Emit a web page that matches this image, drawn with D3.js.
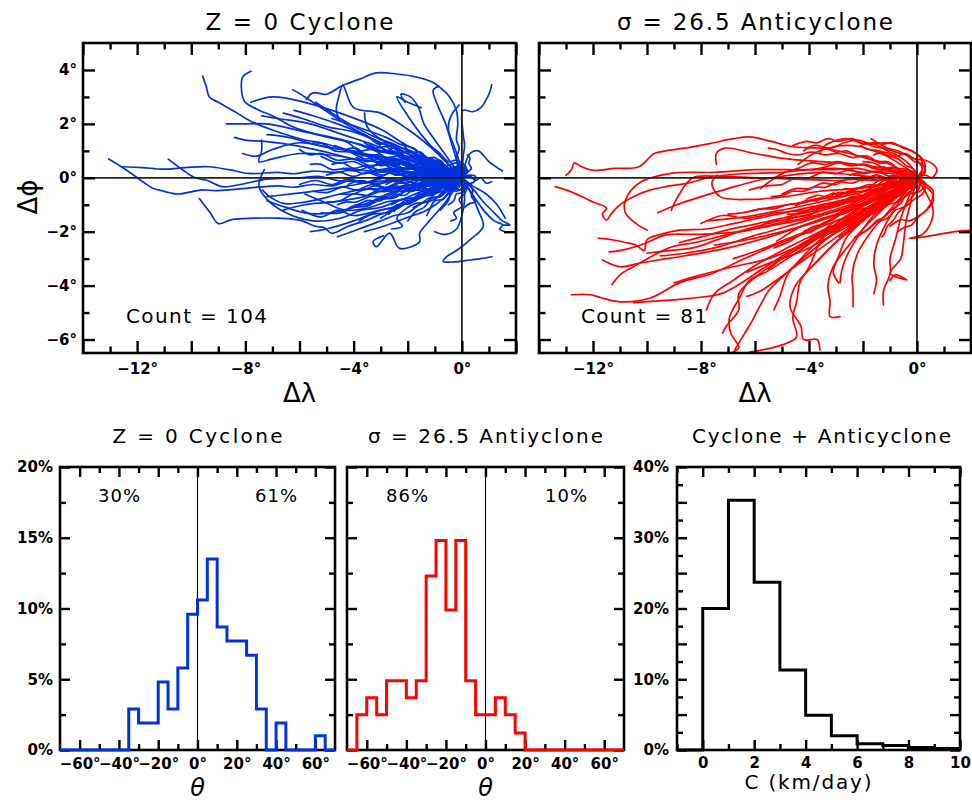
<!DOCTYPE html>
<html>
<head>
<meta charset="utf-8">
<script src="https://cdn.jsdelivr.net/npm/d3@7"></script>
<style>
  body { margin: 0; background: #fff; }
  svg { display: block; }
</style>
</head>
<body>
<svg id="chart" width="972" height="804"></svg>
<script>
// ---------- Eddy track data (Δλ, Δφ in degrees, relative to the genesis point) ----------
// Every track begins at the origin; each string lists the following positions "lon,lat".
const cycloneTracks = [
  "-0.5,0.15 -1,-0.05 -1.6,0.1 -2.2,-0.1 -2.8,0 -3.5,-0.15 -4.1,-0.1 -4.8,-0.3 -5.5,-0.25 -6.2,-0.35 -6.8,-0.3 -7.3,-0.33 -8.3,-0.42 -9.1,-0.48 -9.6,-0.45 -10,-0.52 -10.4,-0.6 -10.7,-0.58 -11.2,-0.45 -11.4,-0.4 -11.7,-0.21 -12.2,0.15 -12.6,0.42 -13.05,0.7",
  "-0.6,0.1 -1.3,0.2 -2,0.15 -2.6,0.35 -3.3,0.25 -4,0.3 -4.7,0.2 -5.5,0.25 -6.2,0.15 -6.8,0.2 -7.9,0.16 -8.6,0.3 -9.35,0.41 -10.2,0.38 -11.07,0.32 -11.8,0.38 -12.55,0.41",
  "-0.7,0.05 -1.5,-0.1 -2.2,-0.05 -3,-0.2 -3.8,-0.15 -4.6,-0.1 -5.3,0.05 -6,0 -7.2,-0.05 -8.2,-0.25 -8.85,-0.33 -9.4,-0.1 -9.85,0 -10.3,0.28 -10.85,0.69",
  "-0.6,-0.2 -1.2,-0.6 -1.8,-0.8 -2.5,-1.2 -3,-1.35 -3.5,-1.57 -4.2,-1.8 -4.8,-2.06 -5.1,-1.85 -5.4,-1.8 -6,-1.57 -6.8,-1.5 -7.7,-1.5 -8.5,-1.55 -9,-1.7 -9.3,-1.3 -9.7,-0.77",
  "-0.8,0.1 -1.5,0.4 -2.2,0.5 -3,0.8 -3.8,0.9 -4.5,1.1 -5.2,1.3 -5.8,1.4 -7,1.77 -7.8,2.1 -8.47,2.5 -9,2.8 -9.33,3 -9.45,3.4 -9.58,3.77",
  "-0.8,0.35 -1.6,0.5 -2.4,0.85 -3.2,1 -4,1.3 -4.8,1.5 -5.5,1.65 -6.25,1.89 -7,2.3 -7.48,2.5 -8,2.8 -8.1,3 -8.15,3.4 -8.1,3.74 -7.79,3.95",
  "-0.2,0.7 -0.1,1.1 -0.2,1.4 -0.15,2 -0.2,2.5 -0.45,3 -0.69,3.25 -1.1,3.55 -1.68,3.74 -2.4,3.85 -3.16,3.89 -3.8,3.65 -4.4,3.43 -5,3.1 -5.5,3.15 -5.75,2.9",
  "0.05,0.8 0.1,1.2 0.05,1.6 0.04,2.5 0.4,2.45 0.7,2.6 0.9,2.9 1.04,3.2 1.1,3.45",
  "0.3,-0.5 0.6,-1.2 0.79,-1.81 0.3,-2.3 -0.2,-2.7 -0.57,-2.93 -0.69,-3.1 -0.3,-3.12 0.3,-3.05 0.7,-3 1.11,-2.93",
  "0.3,0.9 0.6,1 1,0.6 1.5,0.25",
  "0.4,-0.4 0.8,-0.9 1.2,-1.3 1.5,-1.6 1.78,-1.75 1.5,-1.75",
  "-0.6,-0.9 -1.2,-1.6 -1.56,-2.06 -1.56,-2.37 -2.3,-2.62 -2.67,-2.05 -3.16,-2.56 -3.28,-2.37 -2.9,-2.15",
  "-0.5,-0.3 -1,-0.8 -1.5,-0.95 -2,-1.3 -2.5,-1.4 -3,-1.6 -3.8,-1.9 -4.6,-2.19",
  "-0.7,-0.3 -1.5,-0.7 -2.2,-0.8 -3,-1.1 -3.7,-1.2 -4.5,-1.5 -5.5,-1.6 -6.5,-1.3 -7.2,-0.8 -7.5,-0.3 -7.3,0.3",
  "-0.7,0.3 -1.5,0.5 -2.2,0.8 -3,1 -3.8,1.25 -4.5,1.4 -6,1.75 -7.2,2 -8,2 -8.7,2",
  "-0.7,0.4 -1.5,0.6 -2.2,1 -3,1.3 -4.3,2 -5.2,2.6 -5.8,3 -6.25,3.27",
  "-0.8,0.8 -1.5,1.6 -2,2.3 -2.4,3 -2,2.8 -1.5,2.6",
  "-0.3,1 -0.6,2 -0.9,2.7 -1.06,3.25 -0.85,3.4",
  "0.4,-0.3 0.9,-0.6 1.3,-1 1.6,-1.5",
  "-0.7,-0.4 -1.5,-0.6 -2.2,-1 -3,-1.2 -4,-1.6 -5,-1.9 -5.6,-2",
  "-0.8,0.1 -1.6,0.3 -2.4,0.4 -3.2,0.6 -4,0.7 -4.8,0.9 -6.2,1.2 -7.3,1.35 -8,1.4 -8.4,1.5",
  "-0.8,0.3 -1.6,0.4 -2.4,0.7 -3.2,0.8 -4,1 -4.8,1.1 -6,1.3 -7,1.05 -7.6,0.8 -8.1,0.9",
  "-0.8,0.4 -1.5,0.9 -2.2,1.3 -3,1.8 -4.5,2.4 -5.8,2.8 -7,3 -7.8,2.8",
  "-1,1 -2,1.8 -3,2.4 -4,2.6 -4.4,3.43 -4.55,3 -4.64,2.5 -4.5,2.1",
  "-0.7,0.2 -1.5,0.3 -2.2,0.5 -3,0.6 -3.8,0.65 -4.5,0.8 -6,0.9 -7,0.7 -7.5,0.6 -7.4,1 -7.4,1.4",
  "-0.7,-0.15 -1.5,-0.2 -2.2,-0.35 -3,-0.4 -3.8,-0.45 -4.5,-0.6 -5.8,-0.9 -6.6,-0.95 -7.1,-0.7 -7.37,-0.46",
  "-0.6,-0.1 -1.2,-0.3 -1.9,-0.4 -2.5,-0.7 -3.1,-0.8 -3.7,-1 -4.8,-1.3 -5.7,-1.32 -6.5,-1.1 -7.2,-0.85",
  "-0.5,-0.3 -1,-0.5 -1.5,-0.75 -2,-0.9 -2.5,-1.1 -3,-1.2 -4,-1.4 -4.6,-1.2 -5.2,-1.45 -5.9,-1.2",
  "-0.6,0.3 -1.2,0.6 -1.8,0.8 -2.4,1.1 -3,1.3 -3.6,1.6 -4.6,2 -5.5,2.3 -6.2,2.5",
  "-0.5,0.2 -1,0.4 -1.5,0.7 -2,0.9 -2.5,1.1 -3,1.3 -4,1.7 -5,1.9 -5.9,2.2 -6.6,2.4",
  "-0.6,0.4 -1.3,0.7 -1.9,1 -2.5,1.2 -3.6,1.7 -4.5,2.2 -5.1,2.6 -5.4,2.8",
  "-0.8,0.4 -1.6,0.8 -2.4,1.2 -3.1,1.5 -3.5,1.9 -3.6,2.4",
  "-0.5,0.7 -1,1.4 -1.4,2 -1.6,2.6 -1.9,3 -2.25,3.1 -2.1,2.8",
  "-0.1,0.6 -0.3,1.2 -0.5,1.8 -0.4,2.3 -0.1,2.7",
  "0.8,-1.2 1.2,-1.6 1.5,-1.75 1.4,-1.9 1.6,-2",
  "-0.5,0.15 -1,0.4 -1.5,0.55 -2,0.8 -2.6,0.95 -3.2,1.2 -4.4,1.6 -5.6,2 -6.8,2.2 -7.4,2.3",
  "-0.6,-0.05 -1.2,-0.2 -1.8,-0.25 -2.4,-0.4 -3,-0.5 -3.6,-0.7 -4.8,-0.9 -5.8,-1 -6.6,-1.2",
  "-0.5,0.1 -1,0.2 -1.5,0.4 -2,0.5 -2.5,0.65 -3,0.7 -4.2,1 -5.3,1.2 -6.4,1.5 -7.2,1.6",
  "-0.5,-0.15 -1.1,-0.4 -1.6,-0.55 -2.2,-0.8 -2.8,-0.9 -3.4,-1.1 -4.3,-1.2 -5.1,-0.9 -5.8,-0.6",
  "-0.5,0.35 -0.9,0.6 -1.4,0.8 -1.8,1.1 -2.3,1.25 -2.8,1.5 -3.9,1.9 -4.8,2.2",
  "-0.6,0.05 -1.3,0 -2,-0.05 -2.6,-0.1 -3.3,-0.15 -3.9,-0.25 -5.1,-0.45 -6.3,-0.6 -7.2,-0.7",
  "-0.6,-0.7 -1.3,-1.2 -2.1,-1.5 -2.9,-1.8 -3.6,-2",
  "0.1,-0.8 0,-1.4 -0.2,-1.9 -0.6,-2.1 -1,-2",
  "-0.4,0.2 -0.8,0.05 -1.2,0.35 -1.7,0.3 -2.1,0.6 -2.6,0.5 -3,0.85 -3.5,0.8 -3.9,1.1 -4.3,1.05",
  "0.2,0.3 -0.3,0.4 -0.7,0.2 -1.2,0.45 -1.6,0.3 -2.1,0.55 -2.6,0.45 -3,0.7 -3.5,0.6 -3.9,0.75",
  "-0.3,0.3 -0.6,0.15 -1,0.5 -1.3,0.4 -1.7,0.8 -2.1,0.75 -2.5,1.1 -2.8,1 -3.2,1.4",
  "-0.5,-0.1 -0.9,0.2 -1.4,0.1 -1.9,0.35 -2.4,0.25 -2.9,0.5 -3.5,0.4 -4,0.6 -4.6,0.55 -5.2,0.8",
  "0.2,0.2 -0.1,0.45 -0.5,0.3 -0.9,0.55 -1.3,0.5 -1.7,0.8 -2.1,0.7 -2.5,1",
  "-0.4,0.3 -0.8,0.2 -1.3,0.55 -1.8,0.5 -2.3,0.8 -2.8,0.75 -3.3,1.05 -3.8,1 -4.2,1.3 -4.6,1.45",
  "-0.4,-0.15 -0.9,0.1 -1.3,-0.05 -1.8,0.2 -2.3,0.1 -2.7,0.3 -3.1,0.2 -3.5,0.4",
  "-0.3,0.25 -0.7,0.1 -1.1,0.35 -1.5,0.25 -2,0.6",
  "-0.5,0.1 -1,0.35 -1.5,0.25 -2,0.55 -2.6,0.5 -3.1,0.75 -3.6,0.7 -4.1,0.95 -4.7,1 -5.1,1.25 -5.5,1.3",
  "0.1,0.35 -0.3,0.25 -0.7,0.5 -1.1,0.4 -1.5,0.7 -1.9,0.65 -2.4,0.95 -2.7,0.9 -3,1.15",
  "-0.4,0.05 -0.8,0.3 -1.3,0.2 -1.7,0.45 -2.2,0.35 -2.6,0.6 -3.1,0.55 -3.5,0.8 -4,0.9",
  "-0.2,0.35 -0.5,0.25 -0.9,0.55 -1.2,0.5 -1.5,0.8",
  "-0.4,0.15 -0.8,-0.05 -1.2,0.2 -1.6,0.1 -2,0.25 -2.4,0.1 -2.8,0.3",
  "-0.5,0.2 -1,0 -1.5,0.25 -2,0.15 -2.5,0.35 -3,0.25 -3.5,0.45 -4,0.35 -4.4,0.55 -4.8,0.5",
  "-0.5,0.25 -1.1,0.1 -1.6,0.4 -2.2,0.3 -2.8,0.55 -3.4,0.45 -4,0.7 -4.6,0.65 -5.2,0.9 -5.6,0.85 -6,1.05",
  "0.15,0.4 -0.2,0.55 -0.6,0.45 -1,0.75 -1.5,0.7 -1.9,0.95 -2.4,0.9 -2.8,1.15 -3.2,1.1 -3.6,1.3",
  "-0.2,0.4 -0.5,0.3 -0.8,0.65 -1.2,0.6 -1.5,0.95 -1.9,0.95 -2.2,1.3",
  "0.1,0.45 -0.2,0.65 -0.5,0.6 -0.8,0.9 -1.2,1.2",
  "-0.4,-0.1 -0.8,0.15 -1.2,0 -1.7,0.2 -2.1,0.05 -2.5,0.25 -2.9,0.1 -3.3,0.2",
  "-0.5,0.15 -1,-0.05 -1.5,0.2 -2,0.05 -2.5,0.25 -3,0.05 -3.5,0.2 -4,0.05 -4.5,0.2 -5,0.1",
  "-0.3,0.1 -0.6,0.3 -1,0.2 -1.4,0.45 -1.8,0.35 -2.2,0.6 -2.6,0.7",
  "-0.4,0.25 -0.9,0.05 -1.4,0.3 -1.9,0.15 -2.4,0.35 -2.9,0.2 -3.4,0.4 -3.9,0.25 -4.4,0.35",
  "-0.3,0.35 -0.7,0.3 -1.1,0.7 -1.5,0.65 -1.9,1 -2.3,0.95 -2.7,1.3 -3.1,1.25 -3.5,1.55 -3.9,1.7",
  "-0.3,-0.1 -0.6,0.15 -1,0.05 -1.4,0.25 -1.8,0.2",
  "-0.5,0.2 -0.9,0.1 -1.4,0.4 -1.9,0.35 -2.4,0.65 -2.9,0.6 -3.4,0.85 -3.8,0.8 -4.3,1.05 -4.7,1.2",
  "-0.4,0 -0.8,0.25 -1.2,0.15 -1.6,0.4 -2.1,0.3 -2.5,0.55 -3,0.45 -3.3,0.65 -3.6,0.6",
  "-0.2,0.15 -0.5,0.05 -0.9,0.3 -1.3,0.35",
  "-0.3,0.25 -0.7,0.15 -1,0.45 -1.4,0.45 -1.8,0.75 -2.2,0.7 -2.6,1 -3,1 -3.4,1.25",
  "-0.4,-0.2 -0.8,-0.1 -1.2,-0.4 -1.7,-0.35 -2.1,-0.65 -2.6,-0.6 -3,-0.85 -3.5,-0.85 -4,-1.1",
  "-0.4,-0.05 -0.8,-0.3 -1.2,-0.2 -1.7,-0.45 -2.2,-0.4 -2.7,-0.65 -3.2,-0.8",
  "-0.3,-0.3 -0.6,-0.2 -0.9,-0.55 -1.3,-0.5 -1.7,-0.85 -2.1,-0.85 -2.5,-1.25",
  "-0.5,-0.2 -1,-0.05 -1.5,-0.35 -2,-0.25 -2.5,-0.5 -3,-0.4 -3.5,-0.65 -4,-0.6 -4.5,-0.85 -5,-0.9",
  "0.2,-0.3 -0.1,-0.45 -0.4,-0.4 -0.8,-0.7 -1.2,-0.75 -1.5,-0.95 -1.8,-1.1",
  "-0.4,0.05 -0.8,-0.2 -1.3,-0.1 -1.8,-0.3 -2.3,-0.2 -2.8,-0.4 -3.2,-0.3 -3.6,-0.45",
  "-0.4,-0.2 -0.8,-0.05 -1.2,-0.3 -1.7,-0.3 -2.2,-0.5",
  "-0.5,-0.05 -1,-0.3 -1.5,-0.2 -2,-0.4 -2.5,-0.3 -3,-0.5 -3.5,-0.4 -4,-0.6 -4.5,-0.6",
  "0.1,-0.3 -0.2,-0.5 -0.4,-0.45 -0.7,-0.8 -1,-0.85 -1.2,-1.2 -1.3,-1.4",
  "-0.3,-0.35 -0.7,-0.3 -1.1,-0.65 -1.5,-0.65 -1.9,-0.95 -2.3,-1 -2.7,-1.3 -3,-1.5",
  "-0.1,-0.35 -0.4,-0.5 -0.5,-0.85 -0.8,-1.2",
  "-0.3,-0.15 -0.7,0 -1.1,-0.2 -1.5,-0.05 -1.9,-0.25 -2.4,-0.1 -2.8,-0.25",
  "-0.5,-0.1 -1.1,0.05 -1.6,-0.2 -2.2,-0.1 -2.8,-0.35 -3.3,-0.25 -3.9,-0.45 -4.4,-0.35 -5,-0.55 -5.5,-0.5",
  "-0.6,0.1 -1.2,-0.1 -1.8,0.05 -2.4,-0.15 -3,0 -3.6,-0.2 -4.2,-0.05 -4.8,-0.25 -5.4,-0.1 -6,-0.25",
  "-0.3,-0.05 -0.6,-0.3 -1,-0.3 -1.3,-0.55 -1.5,-0.6",
  "-0.3,-0.3 -0.7,-0.25 -1.1,-0.6 -1.5,-0.65 -1.9,-0.95 -2.4,-1 -2.8,-1.3 -3.3,-1.35 -3.8,-1.6",
  "-0.2,-0.35 -0.5,-0.35 -0.8,-0.7 -1.1,-0.75 -1.4,-1.1 -1.7,-1.25 -2,-1.6",
  "-0.5,0.05 -1,-0.15 -1.5,0 -2.1,-0.2 -2.6,-0.05 -3.1,-0.25 -3.7,-0.1 -4.2,-0.25",
  "0.15,-0.3 0,-0.55 -0.2,-0.6 -0.3,-0.85 -0.5,-1",
  "0.2,-0.25 0.1,-0.6 -0.1,-0.8 0,-1.05 -0.3,-1.3 -0.2,-1.5 -0.4,-1.6",
  "0.2,-0.2 0.4,-0.45 0.35,-0.7 0.5,-0.9 0.3,-0.95 0.1,-1.1",
  "-0.4,-0.1 -0.9,-0.3 -1.3,-0.25 -1.8,-0.5 -2.3,-0.5 -2.7,-0.75 -3.1,-0.8 -3.5,-1 -3.9,-1 -4.3,-1.2",
  "-0.3,-0.25 -0.6,-0.15 -1,-0.45 -1.4,-0.45 -1.8,-0.75 -2.2,-0.8 -2.6,-1",
  "-0.4,0 -0.9,-0.25 -1.3,-0.15 -1.8,-0.4 -2.2,-0.3 -2.7,-0.5 -3.2,-0.5",
  "-0.2,-0.2 -0.5,-0.1 -0.9,-0.35 -1.3,-0.45",
  "-0.3,-0.3 -0.7,-0.25 -1,-0.55 -1.4,-0.6 -1.8,-0.9 -2.2,-0.95 -2.7,-1.35",
  "0.3,0.1 0.5,0.05 0.45,-0.15 0.2,-0.25 0.1,-0.4",
  "0.2,0.2 0.35,0.35 0.25,0.55 0.3,0.7 0.2,0.85",
  "0.3,0.05 0.5,-0.1 0.7,0 0.9,-0.2 1.1,-0.15",
  "-0.4,-0.15 -0.8,0 -1.2,-0.3 -1.6,-0.25 -2,-0.5 -2.5,-0.5 -3,-0.7 -3.4,-0.7 -3.9,-0.9 -4.3,-0.9 -4.6,-1",
  "-0.3,-0.3 -0.6,-0.45 -1,-0.6 -1.3,-0.9 -1.7,-0.95 -2,-1.1 -2.4,-1.5 -2.2,-1.8 -2.6,-1.9",
  "-0.5,-0.15 -1,-0.1 -1.5,-0.45 -2,-0.45 -2.5,-0.75 -3,-0.8 -3.5,-1.05 -4,-1.1 -4.5,-1.3 -5.2,-1.3",
  "-0.3,0.15 -0.6,0 -1,0.15 -1.3,-0.05 -1.7,0.05 -2.2,0",
  "-0.6,0.15 -1.2,-0.05 -1.8,0.2 -2.4,0.1 -3,0.3 -3.6,0.15 -4.2,0.35 -4.8,0.3 -5.2,0.5 -5.6,0.5"
];

const anticycloneTracks = [
  "-0.5,0.2 -1,0.5 -1.8,0.7 -2.5,0.9 -3.6,1.1 -4.6,1.15 -5.4,1.35 -6.2,1.52 -6.8,1.45 -7.68,1.27 -8.6,1.1 -9.3,1 -9.73,0.9 -10.3,0.41 -11.2,0.35 -12,0.28 -12.4,0.4 -12.7,0.55 -12.8,0.3 -13,0.1",
  "-0.7,0.15 -1.5,0.2 -2.2,0.35 -3,0.3 -4,0.3 -5,0.2 -6.5,0.15 -7.56,0.04 -8.5,-0.2 -9.3,-0.33 -9.9,-0.46 -10.5,-0.7 -11,-1 -11.3,-1.3 -11.5,-1.57 -11.65,-1.35 -11.5,-1.13 -12,-0.9 -12.4,-0.7 -13,-0.45 -13.4,-0.33",
  "-1,0.25 -2,0.2 -3,0.35 -4,0.3 -6,0.3 -7.5,0.2 -9.05,0.17 -10.3,-0.2 -10.8,-0.83 -10.8,-1.3 -10.4,-1.7 -10,-1.94",
  "-0.7,0 -1.5,-0.1 -2.2,-0.05 -3,-0.1 -4.5,-0.05 -6,0 -7.3,0.05 -8.3,0 -8.8,-0.6 -9.1,-1.2",
  "-0.6,-0.3 -1.3,-0.4 -2,-0.7 -2.6,-0.8 -4,-1.1 -5.4,-1.4 -6.8,-1.7 -7.8,-1.9 -8.8,-1.94 -9.5,-2.1 -10,-2.3 -10.1,-2.7 -10.4,-2.5 -10.8,-2.4 -11.3,-2.3 -11.8,-2.24",
  "-0.6,-0.2 -1.2,-0.5 -1.9,-0.7 -2.5,-1 -3.8,-1.4 -5.2,-1.7 -6.6,-2 -8,-2.1 -9.3,-2.12 -10,-2.4 -10.4,-2.55 -11,-2.7 -11.4,-2.75",
  "-0.6,-0.4 -1.2,-0.6 -1.9,-1 -2.5,-1.2 -4,-1.7 -5.5,-2.2 -7,-2.6 -8.8,-2.93 -9.6,-3.05 -10.3,-3.17 -11,-3.3 -11.65,-3.05",
  "-0.6,-0.3 -1.2,-0.6 -1.9,-0.8 -2.6,-1.1 -4,-1.5 -5.5,-1.8 -7,-2.1 -8.2,-2.4 -9.05,-2.55 -9.8,-2.9 -10.5,-3.3 -11,-3.6 -11.3,-3.97",
  "-0.6,-0.45 -1.2,-0.7 -1.9,-1.15 -2.5,-1.4 -4,-2 -5.5,-2.6 -6.6,-3.1 -7.56,-3.54 -8.8,-3.9 -9.9,-4.47 -11,-4.6 -11.7,-4.45 -12.1,-4.34 -12.8,-4.34",
  "-0.7,-0.4 -1.3,-0.8 -2,-1.3 -2.7,-1.6 -4.2,-2.4 -5.6,-3.3 -7.2,-4.28 -8.2,-4.45 -9.05,-4.53 -10.5,-4.63",
  "-1.1,-0.2 -2.3,-0.4 -3.6,-0.5 -4.9,-0.7 -6.1,-0.8 -7.3,-0.7 -7.6,-0.2 -7.4,0.1",
  "-1,-0.4 -2.1,-0.8 -3.3,-1.1 -4.6,-1.4 -5.9,-1.7 -7.06,-1.94 -8,-2.2 -8.8,-2.4",
  "-1,-0.5 -2.2,-1 -3.5,-1.4 -4.8,-1.8 -6.2,-2.2 -7.5,-2.6 -8.6,-2.8 -9.5,-2.9",
  "-1.1,-0.3 -2.3,-0.6 -3.6,-0.9 -5,-1.2 -6.4,-1.45 -7.8,-1.6",
  "-1,-0.7 -2,-1.4 -3.1,-2 -4.3,-2.5 -5.5,-3 -6.8,-3.3 -8,-3.6 -9,-3.9",
  "-1.1,-0.6 -2.3,-1.1 -3.6,-1.6 -5,-2 -6.3,-2.3 -7.5,-2.5",
  "-1,0.3 -2.2,0.5 -3.5,0.6 -4.8,0.7 -6,0.9 -7.1,1.1 -7.43,0.9 -7.43,0.5",
  "-1.2,-0.4 -2.5,-0.9 -3.8,-1.3 -5.1,-1.6 -6.3,-1.9 -7.4,-2.3 -8.3,-2.6 -9.2,-2.7 -10,-2.8",
  "-1.1,0 -2.3,0.1 -3.5,0.2 -4.7,0.1 -5.9,-0.1 -7,-0.4 -8,-0.7 -8.9,-1 -9.6,-1.3",
  "-1,-0.8 -2,-1.5 -3.1,-2.1 -4.2,-2.7 -5.3,-3.1 -6.3,-3.5",
  "-0.9,-0.5 -1.9,-1 -2.9,-1.4 -3.9,-1.9 -4.9,-2.3 -5.9,-2.7 -6.8,-3",
  "-1,-0.3 -2,-0.7 -3,-1 -4.1,-1.2 -5.2,-1.3 -6.3,-1.5 -7.2,-1.4 -8,-1.7",
  "-1.2,-0.9 -2.3,-1.7 -3.4,-2.5 -4.4,-3.2 -5.2,-3.8 -5.8,-4.2 -6.3,-4.4",
  "-0.9,-0.6 -1.8,-1.2 -2.7,-1.7 -3.6,-2.1 -4.4,-2.6 -5,-3 -5.5,-3.4",
  "-0.8,-0.5 -1.7,-1.1 -2.7,-1.7 -3.6,-2.3 -4.3,-3 -4.8,-3.6 -5.08,-4.4 -5.3,-4.9",
  "-0.9,-0.6 -2,-1.3 -3,-2 -4,-2.8 -4.9,-3.6 -5.5,-4.2 -5.83,-4.78 -6.1,-5.3 -6.4,-5.8 -6.76,-6.4",
  "-0.8,-0.7 -1.8,-1.4 -2.8,-2.2 -3.6,-3 -4.3,-3.8 -4.46,-4.6 -4.6,-5.2 -4.46,-5.9 -5,-6.2 -6.2,-6.47",
  "-0.6,-0.6 -1.3,-1.2 -2,-1.9 -2.6,-2.6 -3.1,-3.3 -3.3,-4 -3.22,-4.6 -3.22,-5.15 -2.85,-5.15",
  "-0.5,-0.6 -1.1,-1.3 -1.7,-2 -2.2,-2.8 -2.4,-3.6 -2.37,-4.2 -2.37,-4.78",
  "-0.3,-0.7 -0.6,-1.5 -0.8,-2.3 -1,-3 -0.99,-3.54 -1.24,-4.2 -1.24,-4.72",
  "-0.2,-0.8 -0.4,-1.6 -0.5,-2.4 -0.6,-3 -0.99,-3.54 -0.37,-3.79 -0.8,-3.6 -1,-3.8",
  "-1,-0.8 -2,-1.6 -3,-2.4 -3.8,-3.2 -4.5,-4 -4.7,-4.8 -4.3,-5.5 -4.2,-6 -3.7,-6 -3.6,-6.4",
  "-1,-0.6 -2.1,-1.3 -3.3,-2 -4.5,-2.8 -5.6,-3.5 -6.2,-3.8 -6.6,-4.5 -6.95,-5.2 -6.9,-5.76 -6.6,-6.3 -6.9,-6.5",
  "-1.1,-0.7 -2.3,-1.4 -3.6,-2 -4.8,-2.6 -5.9,-3.2 -6.8,-3.8 -7.5,-4.3 -7.8,-4.9",
  "-0.8,-0.4 -1.7,-0.9 -2.6,-1.4 -3.3,-2 -3.7,-2.6 -3.9,-3.1 -4.1,-3.5",
  "-0.6,-0.5 -1.3,-1 -2,-1.6 -2.6,-2.2 -2.9,-2.9 -3.1,-3.5 -2.9,-3.9",
  "-0.5,-0.4 -1.1,-0.9 -1.7,-1.5 -2.2,-2.2 -2.6,-2.9 -2.8,-3.5 -2.85,-3.9",
  "-0.4,-0.5 -0.8,-1.1 -1.2,-1.8 -1.5,-2.5 -1.6,-3.2 -1.5,-3.8 -1.6,-4.3",
  "-1.2,-0.7 -2.5,-1.5 -3.8,-2.3 -5,-3 -6,-3.7 -6.6,-4.3 -6.6,-4.9 -7.06,-5.5 -7.2,-5.76",
  "0.3,-0.5 0.6,-1.2 0.5,-1.7 0.2,-2.1 -0.3,-2.25 0.2,-2.2 0.8,-2.1 1.4,-2 2,-1.94",
  "-0.3,0.3 -0.7,0.55 -1.1,0.8 -1.6,1 -2.1,1.15 -2.6,1.2 -3.1,1.15 -3.6,1 -4,0.8 -4.4,0.5",
  "0.3,0.3 0.2,0.7 -0.2,1 -0.7,1.2 -1.2,1.3 -1.7,1.25 -2.2,1.4 -2.7,1.3 -3.2,1.1 -3.8,1.2 -4.2,1",
  "-0.4,0.15 -0.9,0.35 -1.4,0.3 -1.9,0.5 -2.4,0.45 -2.9,0.6 -3.4,0.5 -3.9,0.55 -4.4,0.35 -4.9,0.2 -5.4,-0.1 -5.8,-0.4",
  "-0.2,0.4 -0.6,0.75 -1.1,1 -1.6,1.25 -2.1,1.3 -2.6,1.45 -3.1,1.35 -3.4,1.2 -3.6,0.9",
  "-0.5,0.1 -1,-0.05 -1.5,0.1 -2,-0.1 -2.5,0 -3,-0.25 -3.5,-0.2 -4,-0.4 -4.5,-0.4 -5,-0.6",
  "-0.4,-0.2 -0.9,-0.25 -1.3,-0.5 -1.8,-0.55 -2.3,-0.8 -2.8,-0.85 -3.3,-1.05 -3.8,-1.1 -4.3,-1.3 -4.8,-1.35",
  "-0.4,-0.25 -0.8,-0.5 -1.3,-0.6 -1.7,-0.9 -2.2,-1 -2.6,-1.3 -3,-1.4 -3.4,-1.7 -3.8,-1.8 -4.2,-2",
  "0.3,-0.2 0.1,-0.5 -0.3,-0.6 -0.7,-0.9 -1.1,-1 -1.5,-1.3 -2,-1.4 -2.4,-1.7 -2.8,-1.8 -3.3,-2",
  "-0.4,0.1 -0.9,-0.1 -1.3,-0.05 -1.8,-0.35 -2.3,-0.4 -2.8,-0.6 -3.2,-0.6 -3.7,-0.85 -4.1,-0.85 -4.5,-1.05",
  "-0.2,-0.35 -0.5,-0.55 -0.9,-0.8 -1.2,-1.05 -1.6,-1.2 -1.9,-1.5 -2.3,-1.7 -2.6,-2 -2.9,-2.2",
  "0.3,-0.3 0.2,-0.6 -0.1,-0.8 -0.4,-1.05 -0.8,-1.2 -1.1,-1.5 -1.5,-1.65 -1.8,-1.9 -2.1,-2.1",
  "-0.5,-0.1 -1,-0.35 -1.5,-0.4 -2,-0.7 -2.5,-0.75 -3,-1.05 -3.5,-1.1 -4,-1.4 -4.5,-1.45 -5,-1.7",
  "-0.4,0.25 -0.8,0.2 -1.2,0.4 -1.6,0.35 -2,0.5 -2.5,0.45 -2.9,0.55 -3.4,0.4 -3.9,0.3",
  "-0.4,0.05 -0.8,-0.15 -1.2,-0.1 -1.6,-0.35 -2.1,-0.35 -2.5,-0.55 -2.9,-0.55 -3.3,-0.7 -3.7,-0.65 -4.1,-0.8",
  "-0.3,0.3 -0.6,0.25 -1,0.55 -1.4,0.55 -1.8,0.8 -2.2,0.8 -2.6,1 -3,0.95 -3.3,1.1",
  "-0.3,-0.05 -0.6,-0.25 -1,-0.25 -1.4,-0.5 -1.8,-0.55 -2.2,-0.8 -2.6,-0.85 -2.9,-1.05",
  "-0.5,-0.2 -1,-0.5 -1.5,-0.65 -2,-0.95 -2.5,-1.1 -3,-1.35 -3.5,-1.5 -4,-1.7 -4.4,-1.85 -4.8,-2.1 -5.2,-2.35",
  "-0.2,0.25 -0.5,0.2 -0.8,0.4 -1.2,0.35 -1.6,0.55 -2,0.6",
  "0.2,-0.15 0,-0.35 -0.3,-0.4 -0.6,-0.65 -0.9,-0.7 -1.2,-0.95 -1.5,-1.1",
  "0.3,0.1 0.55,0 0.74,0.29 0.6,0.5 0.3,0.65 -0.1,0.7 -0.4,0.9 -0.8,0.8 -1.2,0.95 -1.6,0.85",
  "0.3,-0.3 0.55,-0.55 0.6,-0.9 0.4,-1.15 0.1,-1.4 -0.3,-1.6 -0.6,-1.55 -1,-1.8",
  "0.2,0.35 0.15,0.7 -0.1,0.95 -0.5,1.1 -0.9,1.3 -1.3,1.25 -1.7,1.45",
  "-0.4,-0.1 -0.9,0.05 -1.4,-0.1 -1.9,0 -2.4,-0.2 -2.9,-0.15 -3.4,-0.35 -3.8,-0.35 -4.2,-0.5 -4.6,-0.5 -5,-0.65 -5.4,-0.7",
  "-0.4,-0.35 -0.9,-0.45 -1.3,-0.75 -1.8,-0.85 -2.2,-1.15 -2.7,-1.25 -3.1,-1.55 -3.5,-1.7 -3.9,-2 -4.3,-2.1 -4.7,-2.35 -5.3,-2.6",
  "-0.3,-0.4 -0.7,-0.5 -1,-0.85 -1.4,-0.95 -1.8,-1.3 -2.2,-1.4 -2.6,-1.7 -3,-1.8 -3.4,-2.05 -3.7,-2.1 -4,-2.3",
  "0.2,0.3 0,0.65 -0.3,0.8 -0.7,1 -1.1,1.1 -1.5,1.3 -2,1.25 -2.4,1.45 -2.9,1.35 -3.3,1.45 -3.7,1.3 -4.1,1.35 -4.6,1.2",
  "-0.5,0.15 -1,0.05 -1.5,0.25 -2,0.15 -2.5,0.3 -3,0.15 -3.5,0.2 -4,0 -4.5,0 -5,-0.25 -5.6,-0.3 -6.2,-0.45",
  "-0.4,-0.1 -0.9,-0.35 -1.4,-0.4 -1.9,-0.65 -2.4,-0.7 -2.9,-0.95 -3.4,-1 -3.9,-1.25 -4.4,-1.3 -4.9,-1.55 -5.4,-1.6 -5.8,-1.8",
  "-0.3,0.05 -0.7,-0.15 -1,-0.1 -1.4,-0.3 -1.8,-0.25 -2.2,-0.4 -2.7,-0.4",
  "-0.1,-0.4 -0.4,-0.6 -0.6,-0.95 -0.9,-1.15 -1.2,-1.45 -1.5,-1.6 -1.8,-1.9 -2.3,-2.2",
  "0.35,-0.25 0.6,-0.5 0.55,-0.85 0.35,-1.2 0.1,-1.4 -0.2,-1.75 -0.5,-1.85 -0.7,-2",
  "-0.3,0.3 -0.7,0.35 -1.1,0.6 -1.5,0.6 -2,0.8 -2.4,0.75 -2.9,0.9 -3.4,0.85 -3.9,0.95 -4.4,0.85 -4.8,0.9 -5.2,1.05 -5.5,1.1",
  "-0.5,-0.1 -1,-0.25 -1.5,-0.3 -2,-0.5 -2.5,-0.5 -3,-0.7 -3.6,-0.75 -4.2,-0.9 -4.8,-1 -5.4,-1.1 -6,-1.2 -6.5,-1.3 -7,-1.35",
  "-0.4,-0.2 -0.8,-0.2 -1.2,-0.45 -1.6,-0.45 -2,-0.65 -2.4,-0.55 -2.8,-0.7 -3.1,-0.55",
  "-0.1,0.3 -0.4,0.45 -0.7,0.7 -1,0.8 -1.4,1 -1.8,1.05 -2.1,1.2",
  "-0.5,-0.05 -1,-0.25 -1.5,-0.3 -2,-0.5 -2.6,-0.55 -3.2,-0.75 -3.7,-0.8 -4.3,-0.95 -4.8,-1 -5.3,-1.15 -5.8,-1.15 -6.2,-1.25",
  "-0.3,-0.35 -0.7,-0.45 -1,-0.75 -1.4,-0.85 -1.8,-1.1 -2.2,-1.2 -2.6,-1.5 -3,-1.6 -3.4,-1.9 -3.7,-2.2",
  "-0.3,0.15 -0.6,0 -0.9,0.1 -1.2,-0.05 -1.5,0.1 -1.9,0 -2.2,0.15 -2.5,0.1",
  "0.1,-0.35 -0.1,-0.6 -0.3,-0.85 -0.5,-1.1 -0.7,-1.3 -0.9,-1.6 -1.1,-1.8 -1.2,-2.05 -1.3,-2.2",
  "0.3,0.2 0.2,0.5 -0.1,0.6 -0.4,0.85 -0.8,0.95 -1.2,1.1 -1.6,1.15 -2,1.35"
];

// Axis ticks and labels
const lonLabelTicks = [-12, -8, -4, 0];
const latLabelTicks = [4, 2, 0, -2, -4, -6];
const thetaLabelTicks = [-60, -40, -20, 0, 20, 40, 60];
const speedLabelTicks = [0, 2, 4, 6, 8, 10];
const pctLabelTicksTheta = [0, 5, 10, 15, 20];
const pctLabelTicksSpeed = [0, 10, 20, 30, 40];

// Propagation-direction histograms: 5° bins starting at -70°, percent of eddies
const thetaBinStart = -70, thetaBinWidth = 5;
const cycloneThetaPct = [0,0,0,0,0,0,0,2.9,1.9,1.9,4.8,2.9,5.8,9.6,10.6,13.5,8.7,7.7,7.7,6.7,2.9,0,1.9,0,0,0,1.0,0];
const anticycloneThetaPct = [0,2.5,3.7,2.5,4.9,4.9,3.7,4.9,12.3,14.8,9.9,14.8,4.9,2.5,2.5,3.7,2.5,1.2,0,0,0,0,0,0,0,0,0,0];
const cycloneShares = ["30%", "61%"];
const anticycloneShares = ["86%", "10%"];

// Propagation-speed histogram: 1 km/day bins starting at -1, percent of eddies
const speedBinStart = -1, speedBinWidth = 1;
const speedPct = [0, 20, 35.3, 23.7, 11.3, 4.9, 2.0, 0.9, 0.65, 0.35, 0.2];

// ---------- drawing ----------
const svg = d3.select("#chart");
const BLUE = "#0033dd", RED = "#ff0000";
const TICK_FONT = "'DejaVu Sans', sans-serif";

const degFmt = v => (v < 0 ? "\u2212" : "") + Math.abs(v) + "\u00b0";

function parseTrack(s) {
  return [[0, 0]].concat(s.trim().split(/\s+/).map(p => p.split(",").map(Number)));
}

// Frame with inward ticks on all four sides
function frame(g, x, y, o) {
  const [x0, x1] = x.range();
  const [yb, yt] = y.range();
  const style = sel => {
    sel.select(".domain").remove();
    sel.selectAll("line").attr("stroke", "#000").attr("stroke-width", 2.4);
    sel.selectAll("text").attr("font-family", TICK_FONT).attr("font-weight", "bold")
      .attr("font-size", 15).attr("fill", "#000");
  };
  const xl = v => o.xLabels.includes(v) ? o.xFmt(v) : "";
  const yl = v => (o.yLabels && o.yLabels.includes(v)) ? o.yFmt(v) : "";
  g.append("g").attr("transform", `translate(0,${yb})`)
    .call(d3.axisBottom(x).tickValues(o.xMinor).tickSize(-o.minorLen).tickFormat("")).call(style);
  g.append("g").attr("transform", `translate(0,${yb})`)
    .call(d3.axisBottom(x).tickValues(o.xMajor).tickSize(-o.majorLen).tickPadding(o.xPad).tickFormat(xl)).call(style);
  g.append("g").attr("transform", `translate(0,${yt})`)
    .call(d3.axisTop(x).tickValues(o.xMinor).tickSize(-o.minorLen).tickFormat("")).call(style);
  g.append("g").attr("transform", `translate(0,${yt})`)
    .call(d3.axisTop(x).tickValues(o.xMajor).tickSize(-o.majorLen).tickFormat("")).call(style);
  g.append("g").attr("transform", `translate(${x0},0)`)
    .call(d3.axisLeft(y).tickValues(o.yMinor).tickSize(-o.minorLen).tickFormat("")).call(style);
  g.append("g").attr("transform", `translate(${x0},0)`)
    .call(d3.axisLeft(y).tickValues(o.yMajor).tickSize(-o.majorLen).tickPadding(o.yPad).tickFormat(yl)).call(style);
  g.append("g").attr("transform", `translate(${x1},0)`)
    .call(d3.axisRight(y).tickValues(o.yMinor).tickSize(-o.minorLen).tickFormat("")).call(style);
  g.append("g").attr("transform", `translate(${x1},0)`)
    .call(d3.axisRight(y).tickValues(o.yMajor).tickSize(-o.majorLen).tickFormat("")).call(style);
  g.append("rect").attr("x", x0).attr("y", yt).attr("width", x1 - x0).attr("height", yb - yt)
    .attr("fill", "none").attr("stroke", "#000").attr("stroke-width", 2.6);
}

function label(text, x, y, size, width, extra) {
  const t = svg.append("text").attr("x", x).attr("y", y).attr("text-anchor", "middle")
    .attr("font-family", (extra && extra.family) || "'DejaVu Sans', sans-serif")
    .attr("font-size", size).attr("fill", "#000").text(text);
  if (width) t.attr("textLength", width).attr("lengthAdjust", "spacing");
  if (extra && extra.style) t.attr("font-style", extra.style);
  if (extra && extra.anchor) t.attr("text-anchor", extra.anchor);
  return t;
}

// ----- Track panels -----
function trackPanel(id, tracks, color, x0, x1, showY, title, titleW, countText, countX, countW) {
  const x = d3.scaleLinear().domain([-14, 2]).range([x0, x1]);
  const y = d3.scaleLinear().domain([-6.5, 5]).range([353, 43]);
  const g = svg.append("g");
  g.append("clipPath").attr("id", id).append("rect")
    .attr("x", x0).attr("y", 43).attr("width", x1 - x0).attr("height", 310);
  const line = d3.line().x(d => x(d[0])).y(d => y(d[1])).curve(d3.curveCatmullRom.alpha(0.5));
  g.append("g").attr("clip-path", `url(#${id})`).selectAll("path")
    .data(tracks.map(parseTrack)).join("path")
    .attr("d", line).attr("fill", "none").attr("stroke", color)
    .attr("stroke-width", 1.7).attr("stroke-linejoin", "round").attr("stroke-linecap", "round");
  // reference axes through the genesis point
  g.append("line").attr("x1", x0).attr("x2", x1).attr("y1", y(0)).attr("y2", y(0))
    .attr("stroke", "#222").attr("stroke-width", 1.8);
  g.append("line").attr("x1", x(0)).attr("x2", x(0)).attr("y1", 43).attr("y2", 353)
    .attr("stroke", "#222").attr("stroke-width", 1.8);
  const xMajor = d3.range(-14, 2.01, 2), xMinor = d3.range(-13, 2, 2);
  const yMajor = d3.range(-6, 5.01, 2), yMinor = d3.range(-5, 5, 2);
  frame(g, x, y, {
    xMajor, xMinor, yMajor, yMinor, majorLen: 12, minorLen: 6.5,
    xLabels: lonLabelTicks, xFmt: degFmt, yLabels: showY ? latLabelTicks : null, yFmt: degFmt,
    xPad: 10, yPad: 6
  });
  label(title, (x0 + x1) / 2, 30, 23, titleW);
  label("\u0394\u03bb", (x0 + x1) / 2, 402, 26, null);
  label(countText, countX, 323, 20, countW, { anchor: "start" });
}

trackPanel("clipC", cycloneTracks, BLUE, 83, 516, true, "Z = 0 Cyclone", 188, "Count = 104", 126, 141);
trackPanel("clipA", anticycloneTracks, RED, 539, 971, false, "\u03c3 = 26.5 Anticyclone", 276, "Count = 81", 581, 126);

svg.append("text").attr("transform", "translate(37,197) rotate(-90)")
  .attr("text-anchor", "middle").attr("font-family", "'DejaVu Sans', sans-serif")
  .attr("font-size", 26).attr("fill", "#000").text("\u0394\u03d5");

// ----- Histograms -----
function stepPoints(values, start, width) {
  const pts = values.map((v, i) => [start + i * width, v]);
  pts.push([start + values.length * width, values[values.length - 1]]);
  return pts;
}

function thetaHist(values, color, x0, x1, showY, title, titleW, shares, shareX) {
  const x = d3.scaleLinear().domain([-70, 70]).range([x0, x1]);
  const y = d3.scaleLinear().domain([0, 20]).range([750, 467]);
  const g = svg.append("g");
  g.append("line").attr("x1", x(0)).attr("x2", x(0)).attr("y1", 467).attr("y2", 750)
    .attr("stroke", "#000").attr("stroke-width", 1.2);
  frame(g, x, y, {
    xMajor: d3.range(-60, 61, 20), xMinor: d3.range(-50, 51, 20),
    yMajor: d3.range(0, 20.01, 5), yMinor: d3.range(2.5, 20, 5), majorLen: 10, minorLen: 6,
    xLabels: thetaLabelTicks, xFmt: degFmt, yLabels: showY ? pctLabelTicksTheta : null, yFmt: v => v + "%",
    xPad: 8, yPad: 7
  });
  const line = d3.line().x(d => x(d[0])).y(d => y(d[1])).curve(d3.curveStepAfter);
  g.append("path").attr("d", line(stepPoints(values, thetaBinStart, thetaBinWidth)))
    .attr("fill", "none").attr("stroke", color).attr("stroke-width", 3);
  label(title, (x0 + x1) / 2, 443, 20, titleW);
  label("\u03b8", (x0 + x1) / 2, 796, 24, null, { style: "italic" });
  shares.forEach((s, i) => label(s, shareX[i], 502, 18, 42));
}

thetaHist(cycloneThetaPct, BLUE, 60, 335, true, "Z = 0 Cyclone", 170, cycloneShares, [119, 276]);
thetaHist(anticycloneThetaPct, RED, 347, 624, false, "\u03c3 = 26.5 Antiyclone", 235, anticycloneShares, [407, 566]);

(function speedHist() {
  const x0 = 677, x1 = 960;
  const x = d3.scaleLinear().domain([-1, 10]).range([x0, x1]);
  const y = d3.scaleLinear().domain([0, 40]).range([750, 467]);
  const g = svg.append("g");
  frame(g, x, y, {
    xMajor: d3.range(0, 10.01, 2), xMinor: d3.range(-1, 10, 2),
    yMajor: d3.range(0, 40.01, 5), yMinor: d3.range(2.5, 40, 5), majorLen: 10, minorLen: 6,
    xLabels: speedLabelTicks, xFmt: v => String(v), yLabels: pctLabelTicksSpeed, yFmt: v => v + "%",
    xPad: 7, yPad: 8
  });
  const line = d3.line().x(d => x(d[0])).y(d => y(d[1])).curve(d3.curveStepAfter);
  g.append("path").attr("d", line(stepPoints(speedPct, speedBinStart, speedBinWidth)))
    .attr("fill", "none").attr("stroke", "#000").attr("stroke-width", 3);
  label("Cyclone + Anticyclone", (x0 + x1) / 2 + 3, 443, 20, 259);
  label("C (km/day)", 808, 789, 20, 127);
})();
</script>
</body>
</html>
